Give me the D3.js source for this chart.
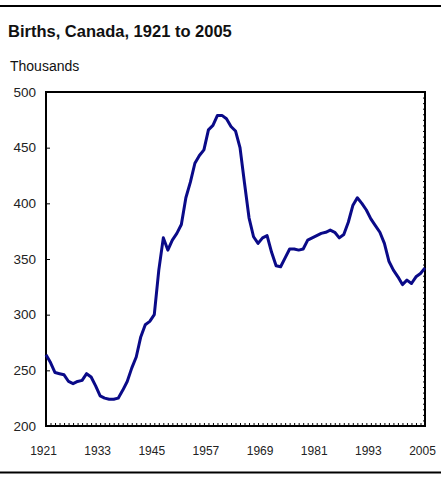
<!DOCTYPE html>
<html><head><meta charset="utf-8">
<script src="https://cdn.jsdelivr.net/npm/d3@7/dist/d3.min.js"></script>
<style>
html,body{margin:0;padding:0;background:#fff;}
svg{display:block;font-family:"Liberation Sans",Arial,sans-serif;}
</style></head>
<body>
<svg id="c" width="444" height="480"></svg>
<script>
const titleText = "Births, Canada, 1921 to 2005";
const unitLabel = "Thousands";
const years = d3.range(1921, 2006);
const births = [
 264,257,248,247,246,240,238,240,241,247,
 244,236,227,225,224,224,225,232,240,252,
 262,280,291,294,300,340,369,358,367,373,
 381,405,419,436,443,448,466,470,479,479,
 476,469,465,450,418,387,370,364,369,371,
 356,344,343,351,359,359,358,359,367,369,
 371,373,374,376,374,369,372,383,398,405,
 400,394,386,380,374,364,348,340,334,327,
 331,328,334,337,342
];
const xTickYears = [1921,1933,1945,1957,1969,1981,1993,2005];
const yTickValues = [200,250,300,350,400,450,500];

const svg = d3.select("#c");
const L = 46, R = 425, T = 92, B = 426;
const x = d3.scaleLinear().domain([1921,2005]).range([L,R]);
const y = d3.scaleLinear().domain([200,500]).range([B,T]);

// top and bottom rules
svg.append("line").attr("x1",0).attr("x2",441).attr("y1",6).attr("y2",6)
  .attr("stroke","#000").attr("stroke-width",2);
svg.append("line").attr("x1",0).attr("x2",441).attr("y1",472.5).attr("y2",472.5)
  .attr("stroke","#000").attr("stroke-width",2);

svg.append("text").attr("x",8).attr("y",37).attr("font-size",16.5).attr("font-weight","bold")
  .attr("fill","#111").text(titleText);
svg.append("text").attr("x",10).attr("y",71).attr("font-size",14).attr("fill","#111").text(unitLabel);

// axes
const gx = svg.append("g").attr("transform",`translate(0,${B})`)
  .call(d3.axisBottom(x).tickValues(xTickYears).tickFormat(d3.format("d")).tickSize(0).tickPadding(20));
gx.select(".domain").remove();
gx.selectAll("text").attr("font-size",12).attr("fill","#222").attr("dx",-3).attr("font-family","Liberation Sans, Arial, sans-serif");

const gy = svg.append("g").attr("transform",`translate(${L},0)`)
  .call(d3.axisLeft(y).tickValues(yTickValues).tickSize(0).tickPadding(10));
gy.select(".domain").remove();
gy.selectAll("text").attr("font-size",13.5).attr("fill","#222").attr("font-family","Liberation Sans, Arial, sans-serif");

// inner minor ticks
const gxm = svg.append("g").attr("transform",`translate(0,${B})`)
  .call(d3.axisTop(x).tickValues(years).tickFormat("").tickSizeInner(3).tickSizeOuter(0));
gxm.select(".domain").remove();
gxm.selectAll("line").attr("stroke","#000");
const gyl = svg.append("g").attr("transform",`translate(${L},0)`)
  .call(d3.axisRight(y).tickValues(yTickValues).tickFormat("").tickSizeInner(4).tickSizeOuter(0));
gyl.select(".domain").remove();
const gyr = svg.append("g").attr("transform",`translate(${R},0)`)
  .call(d3.axisLeft(y).tickValues(d3.range(200,501,5)).tickFormat("").tickSizeInner(2).tickSizeOuter(0));
gyr.select(".domain").remove();

// frame
svg.append("rect").attr("x",L).attr("y",T).attr("width",R-L).attr("height",B-T)
  .attr("fill","none").attr("stroke","#000").attr("stroke-width",2);

// data line
const line = d3.line().x((d,i)=>x(years[i])).y(d=>y(d));
svg.append("path").datum(births).attr("d",line).attr("fill","none")
  .attr("stroke","#0a0a88").attr("stroke-width",3).attr("stroke-linejoin","round");
</script>
</body></html>
